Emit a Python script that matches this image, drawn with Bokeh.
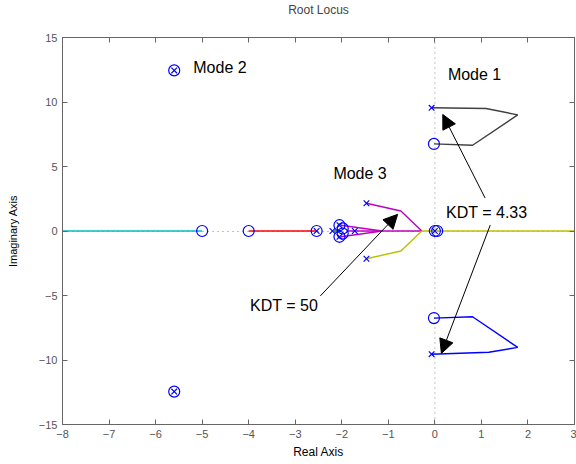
from bokeh.plotting import figure
from bokeh.models import Range1d, LinearAxis, FixedTicker, Span, Label, Arrow, NormalHead
from bokeh.embed import file_html
from bokeh.resources import INLINE

# ---- data ----
pole_x = [-0.07, -0.07, -5.6, -5.6, -2.54, -2.2, -2.05, -2.05, -1.72, -1.47, -1.47, 0.0]
pole_y = [9.55, -9.55, 12.45, -12.45, 0.0, 0.0, 0.45, -0.45, 0.0, 2.15, -2.15, 0.0]
zero_x = [-0.02, -0.02, -5.6, -5.6, -5.0, -4.0, -2.54, -2.05, -2.05, -1.98, -1.98, 0.0, 0.05]
zero_y = [6.75, -6.75, 12.45, -12.45, 0.0, 0.0, 0.0, 0.45, -0.45, 0.2, -0.2, 0.0, 0.0]

branches = [
    ([-0.07, 1.1, 1.78, 0.81, -0.02], [9.55, 9.5, 9.0, 6.65, 6.75], "#404040"),
    ([-0.07, 1.16, 1.78, 0.81, -0.02], [-9.55, -9.4, -9.02, -6.65, -6.75], "#0000ff"),
    ([-8.0, -5.0], [0.0, 0.0], "#00bfbf"),
    ([-4.0, -2.54], [0.0, 0.0], "#ff0000"),
    ([-2.17, -2.05], [0.0, 0.0], "#008000"),
    ([-2.02, -1.13], [0.45, 0.0], "#bf00bf"),
    ([-2.02, -1.13], [-0.45, 0.0], "#bf00bf"),
    ([-1.9, -0.28], [0.0, 0.0], "#bf00bf"),
    ([-1.47, -0.73, -0.28], [2.15, 1.55, 0.0], "#bf00bf"),
    ([-1.47, -0.73, -0.28], [-2.15, -1.55, 0.0], "#bfbf00"),
    ([-0.28, 3.0], [0.0, 0.0], "#bfbf00"),
]

x_ticks = [-8, -7, -6, -5, -4, -3, -2, -1, 0, 1, 2, 3]
y_ticks = [-15, -10, -5, 0, 5, 10, 15]

title_text = "Root Locus"
notes = [("Mode 1", 0.28, 12.1), ("Mode 2", -5.19, 12.65), ("Mode 3", -2.18, 4.45),
         ("KDT = 4.33", 0.24, 1.45), ("KDT = 50", -3.97, -5.8)]
arrows = [(1.08, 2.55, 0.17, 9.03), (1.19, 0.46, 0.14, -9.49), (-2.46, -5.03, -0.80, 1.29)]

FONT = "Liberation Sans"

p = figure(width=576, height=464, output_backend="svg", toolbar_location=None,
           x_range=Range1d(-8, 3), y_range=Range1d(-15, 15),
           min_border_left=62, min_border_right=2, min_border_top=0, min_border_bottom=40)
p.title.text = title_text
p.title.align = "center"
p.title.text_font = FONT
p.title.text_font_size = "12px"
p.title.text_font_style = "normal"
p.title.standoff = 0
p.xgrid.visible = False
p.ygrid.visible = False
p.outline_line_color = "#666666"
p.background_fill_color = "white"
p.border_fill_color = "white"

def minus(v):
    return str(v).replace("-", "\u2212")

for ax, ticks in ((p.xaxis[0], x_ticks), (p.yaxis[0], y_ticks)):
    ax.ticker = FixedTicker(ticks=ticks)
    ax.major_label_overrides = {t: minus(t) for t in ticks}
    ax.major_tick_in = 5
    ax.major_tick_out = 0
    ax.minor_tick_line_color = None
    ax.axis_line_color = "#666666"
    ax.major_tick_line_color = "#666666"
    ax.major_label_text_font = FONT
    ax.major_label_text_font_size = "11px"
    ax.major_label_text_color = "#555555"
    ax.axis_label_text_font = FONT
    ax.axis_label_text_font_style = "normal"
    ax.axis_label_text_color = "black"
p.xaxis[0].axis_label = "Real Axis"
p.xaxis[0].axis_label_text_font_size = "12px"
p.xaxis[0].axis_label_standoff = 4
p.yaxis[0].axis_label = "Imaginary Axis"
p.yaxis[0].axis_label_text_font_size = "11px"
p.yaxis[0].axis_label_standoff = 17

right_ax = LinearAxis(ticker=FixedTicker(ticks=y_ticks), major_tick_in=5, major_tick_out=0,
                      minor_tick_line_color=None, major_label_overrides={t: "" for t in y_ticks},
                      major_label_standoff=0, axis_line_color="#666666", major_tick_line_color="#666666")
p.add_layout(right_ax, "right")
top_ax = LinearAxis(ticker=FixedTicker(ticks=x_ticks), major_tick_in=5, major_tick_out=0,
                    minor_tick_line_color=None, major_label_overrides={t: "" for t in x_ticks},
                    major_label_standoff=0, axis_line_color="#666666", major_tick_line_color="#666666",
                    axis_label=" ", axis_label_standoff=4, axis_label_text_font=FONT,
                    axis_label_text_font_size="12px")
p.add_layout(top_ax, "above")

# dotted zero lines, kept beneath the loci
p.hspan(y=[0], line_color="#888888", line_dash="1 4", line_width=1, level="underlay")
p.add_layout(Span(location=0, dimension="height", line_color="#888888", line_dash="1 4",
                  line_width=1, level="underlay"))

for bx, by, col in branches:
    p.line(bx, by, line_color=col, line_width=1.4)

p.scatter(pole_x, pole_y, marker="x", size=8, line_color="#0000ff", line_width=1.2)
p.scatter(zero_x, zero_y, marker="circle", size=11, fill_color=None, line_color="#0000ff", line_width=1.2)

for t, x, y in notes:
    p.add_layout(Label(x=x, y=y, text=t, text_font=FONT, text_font_size="16px",
                       text_baseline="middle", text_align="left", text_color="black"))

for x0, y0, x1, y1 in arrows:
    p.add_layout(Arrow(x_start=x0, y_start=y0, x_end=x1, y_end=y1, line_color="black", line_width=1,
                       end=NormalHead(size=14, fill_color="black", line_color="black")))

open("out.html", "w").write(file_html(p, INLINE))
